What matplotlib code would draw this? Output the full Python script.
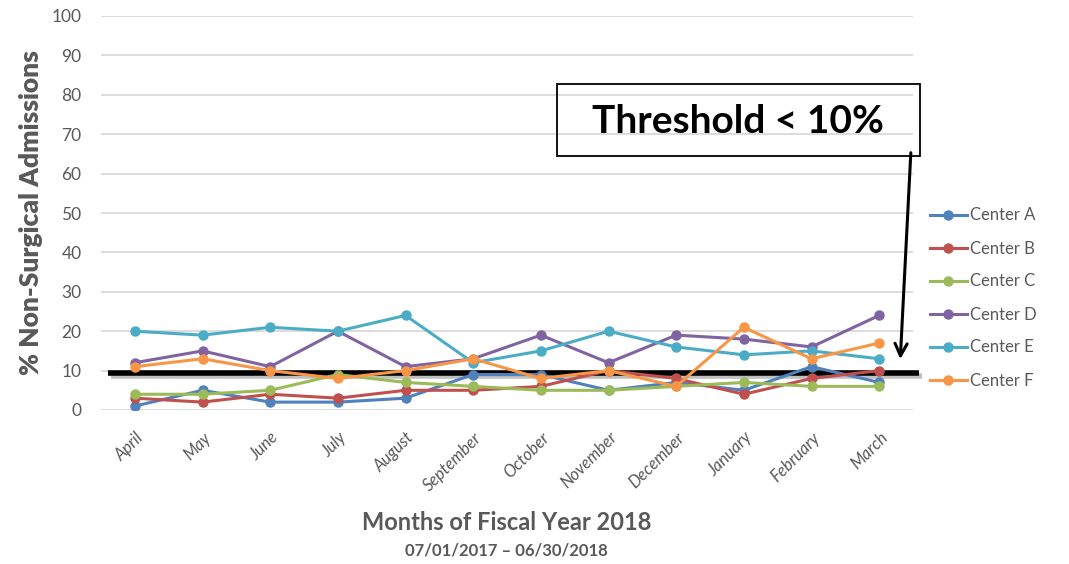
import matplotlib.pyplot as plt
from matplotlib.patches import Rectangle
import matplotlib.patheffects as pe

months = ['April', 'May', 'June', 'July', 'August', 'September', 'October',
          'November', 'December', 'January', 'February', 'March']
center_a = [1, 5, 2, 2, 3, 9, 9, 5, 7, 5, 11, 7]
center_b = [3, 2, 4, 3, 5, 5, 6, 10, 8, 4, 8, 10]
center_c = [4, 4, 5, 9, 7, 6, 5, 5, 6, 7, 6, 6]
center_d = [12, 15, 11, 20, 11, 13, 19, 12, 19, 18, 16, 24]
center_e = [20, 19, 21, 20, 24, 12, 15, 20, 16, 14, 15, 13]
center_f = [11, 13, 10, 8, 10, 13, 8, 10, 6, 21, 13, 17]
names = ['Center A', 'Center B', 'Center C', 'Center D', 'Center E', 'Center F']
colors = ['#4F81BD', '#C0504D', '#9BBB59', '#8064A2', '#4BACC6', '#F79646']
threshold = 9.3

plt.rcParams['font.family'] = ['Lato', 'DejaVu Sans']
gray = '#595959'

fig = plt.figure(figsize=(10.69, 5.64), dpi=100)
ax = fig.add_axes([101 / 1069, 1 - 410 / 564, 812 / 1069, 394 / 564])

x = list(range(len(months)))
series = [center_a, center_b, center_c, center_d, center_e, center_f]
for vals, name, c in zip(series, names, colors):
    ax.plot(x, vals, color=c, lw=2.2, marker='o', ms=6.5, label=name, zorder=3)

ax.set_xlim(-0.5, 11.5)
ax.set_ylim(0, 100)
ax.set_yticks(range(0, 101, 10))
ax.yaxis.grid(True, color='#D9D9D9', lw=1.3)
ax.set_axisbelow(True)
for s in ax.spines.values():
    s.set_visible(False)
ax.tick_params(length=0, colors=gray, labelsize=12.5)
ax.tick_params(axis='y', pad=14)
ax.set_xticks(x)
ax.set_xticklabels(months, rotation=45, ha='right', rotation_mode='anchor',
                   style='italic', fontsize=12)
ax.tick_params(axis='x', pad=14)

ax.set_ylabel('% Non-Surgical Admissions', fontsize=19, fontweight='heavy',
              color=gray, labelpad=6)
fig.text(0.474, 1 - 523 / 564, 'Months of Fiscal Year 2018', ha='center', va='center',
         fontsize=17, fontweight='bold', color=gray)
fig.text(0.474, 1 - 550 / 564, '07/01/2017 \u2013 06/30/2018', ha='center', va='center',
         fontsize=12, fontweight='bold', color=gray)

# threshold line with shadow
ax.plot([-0.4, 11.59], [threshold, threshold], color='black', lw=4, zorder=2,
        clip_on=False, solid_capstyle='butt',
        path_effects=[pe.SimpleLineShadow(offset=(2, -2), alpha=0.25), pe.Normal()])

# label box and arrow
fig.patches.append(Rectangle((557 / 1069, 1 - 156 / 564), 363 / 1069, 72 / 564,
                             transform=fig.transFigure, fill=False,
                             edgecolor='black', lw=1.3))
fig.text(738 / 1069, 1 - 121 / 564, 'Threshold < 10%', ha='center', va='center',
         fontsize=28, fontweight='bold', color='black')
ax.annotate('', xy=(11.31, 12.2), xytext=(11.47, 66), annotation_clip=False,
            arrowprops=dict(arrowstyle='->', color='black', lw=2.2,
                            mutation_scale=22))

fig.legend(loc='center left', bbox_to_anchor=(915 / 1069, 1 - 298 / 564),
           frameon=False, fontsize=12, labelcolor=gray, handlelength=2.2,
           handletextpad=0.2, labelspacing=1.02)

fig.savefig('out.png', dpi=100)
